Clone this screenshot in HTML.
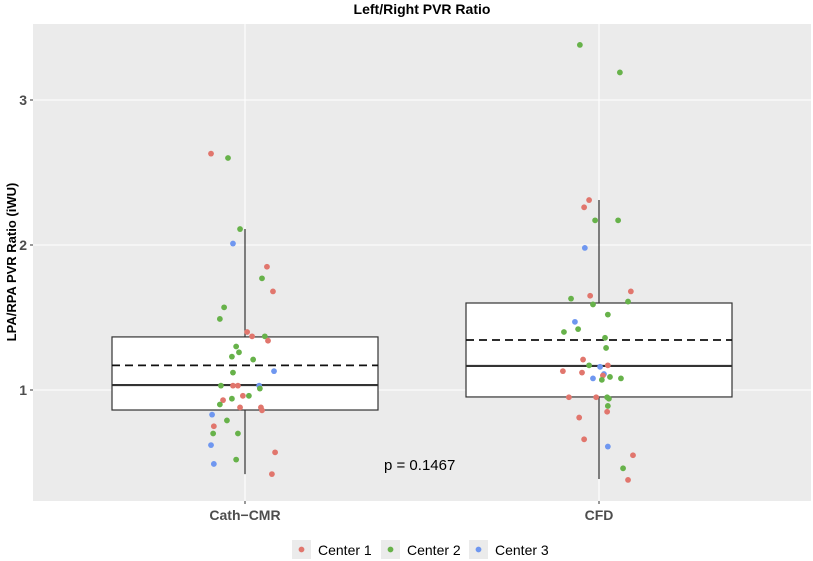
<!DOCTYPE html>
<html><head><meta charset="utf-8"><style>
body{margin:0;background:#fff;}
svg{display:block;font-family:"Liberation Sans",Arial,sans-serif;}
</style></head><body>
<svg id="chart" width="813" height="561" viewBox="0 0 813 561">
<rect x="0" y="0" width="813" height="561" fill="#fff"/>
<g id="plot"></g>
</svg>
<script>
const categories = ["Cath-CMR", "CFD"];
const yTicks = [1, 2, 3];
const boxQ1 = [0.862, 0.952];
const boxMedian = [1.034, 1.166];
const boxQ3 = [1.366, 1.60];
const boxMean = [1.17, 1.345];
const whiskerLow = [0.42, 0.386];
const whiskerHigh = [2.11, 2.31];
const centers = ["Center 1", "Center 2", "Center 3"];
const centerColors = ["#e1766d", "#67b24a", "#6f97f0"];
// Cath-CMR points
const cathVal = [2.63,2.60,2.11,2.01,1.85,1.77,1.68,1.57,1.49,1.40,1.37,1.37,1.34,1.30,1.23,1.26,1.21,1.12,1.13,1.03,1.03,1.03,1.03,1.01,0.96,0.96,0.93,0.94,0.90,0.88,0.88,0.86,0.83,0.75,0.79,0.70,0.70,0.62,0.57,0.52,0.49,0.42];
const cathJit = [-0.096,-0.048,-0.014,-0.034,0.062,0.048,0.079,-0.059,-0.071,0.006,0.020,0.056,0.065,-0.025,-0.037,-0.017,0.023,-0.034,0.082,-0.068,-0.034,-0.020,0.040,0.042,-0.006,0.011,-0.062,-0.037,-0.071,-0.014,0.045,0.048,-0.093,-0.088,-0.051,-0.090,-0.020,-0.096,0.085,-0.025,-0.088,0.076];
const cathCtr = [0,1,1,2,0,1,0,1,1,0,0,1,0,1,1,1,1,1,2,1,0,0,2,1,0,1,0,1,1,0,0,0,2,0,1,1,1,2,0,1,2,0];
// CFD points
const cfdVal = [3.38,3.19,2.31,2.26,2.17,2.17,1.98,1.68,1.65,1.63,1.61,1.59,1.52,1.47,1.42,1.40,1.36,1.29,1.21,1.17,1.16,1.17,1.13,1.12,1.11,1.10,1.09,1.08,1.07,1.08,0.95,0.95,0.95,0.94,0.89,0.85,0.81,0.66,0.61,0.55,0.46,0.38];
const cfdJit = [-0.054,0.059,-0.028,-0.042,-0.011,0.054,-0.040,0.090,-0.025,-0.079,0.082,-0.017,0.025,-0.068,-0.059,-0.099,0.017,0.020,-0.045,-0.028,0.003,0.025,-0.102,-0.048,0.014,0.011,0.031,-0.017,0.008,0.062,-0.085,-0.008,0.023,0.028,0.025,0.023,-0.056,-0.042,0.025,0.096,0.068,0.082];
const cfdCtr = [1,1,0,0,1,1,2,0,0,1,1,1,1,2,1,1,1,1,0,1,2,0,0,0,2,0,1,2,1,1,0,0,1,1,1,0,0,0,2,0,1,0];

const P = {l:33, r:811, t:24, b:501};
const yScale = v => 390 - 145*(v-1);
const xScale = i => 245 + 354*i;
const catStep = 354;
const NS = "http://www.w3.org/2000/svg";
const g = document.getElementById('plot');
function mk(tag, attrs, parent){const e=document.createElementNS(NS,tag);for(const k in attrs)e.setAttribute(k,attrs[k]);(parent||g).appendChild(e);return e;}

let e = mk('rect',{x:P.l,y:P.t,width:P.r-P.l,height:P.b-P.t,fill:'#ebebeb'});



yTicks.forEach(t=>{
  let y=yScale(t);
  let l=mk('line',{x1:P.l,x2:P.r,y1:y,y2:y,stroke:'#fff','stroke-width':1.1});
  
  
  let tk=mk('line',{x1:P.l-3,x2:P.l,y1:y,y2:y,stroke:'#333','stroke-width':1});
  
  
  let tx=mk('text',{x:P.l-6,y:y+5,'text-anchor':'end','font-size':14,'font-weight':'bold',fill:'#4d4d4d'});
  tx.textContent=t;
  
  
});
categories.forEach((c,i)=>{
  let x=xScale(i);
  let l=mk('line',{x1:x,x2:x,y1:P.t,y2:P.b,stroke:'#fff','stroke-width':1.1});
  
  
  let tk=mk('line',{x1:x,x2:x,y1:P.b,y2:P.b+3,stroke:'#333','stroke-width':1});
  
  
  let tx=mk('text',{x:x,y:P.b+19,'text-anchor':'middle','font-size':14,'font-weight':'bold',fill:'#4d4d4d'});
  tx.textContent=c.replace('-','\u2212');
  
  
});

categories.forEach((c,i)=>{
  let x=xScale(i), hw=133;
  let w=mk('line',{x1:x,x2:x,y1:yScale(whiskerHigh[i]),y2:yScale(whiskerLow[i]),stroke:'#333','stroke-width':1.2});
  
  
  let b=mk('rect',{x:x-hw,y:yScale(boxQ3[i]),width:2*hw,height:yScale(boxQ1[i])-yScale(boxQ3[i]),fill:'#fff',stroke:'#333','stroke-width':1.2});
  
  
  let m=mk('line',{x1:x-hw,x2:x+hw,y1:yScale(boxMedian[i]),y2:yScale(boxMedian[i]),stroke:'#333','stroke-width':2.2});
  
  
  let mn=mk('line',{x1:x-hw,x2:x+hw,y1:yScale(boxMean[i]),y2:yScale(boxMean[i]),stroke:'#111','stroke-width':1.8,'stroke-dasharray':'8,5'});
  
  
});

function drawPoints(ci, vals, jits, ctrs){
  vals.forEach((v,k)=>{
    let c=mk('circle',{cx:xScale(ci)+jits[k]*catStep,cy:yScale(v),r:2.9,fill:centerColors[ctrs[k]]});
    
    
  });
}
drawPoints(0, cathVal, cathJit, cathCtr);
drawPoints(1, cfdVal, cfdJit, cfdCtr);

let pv=mk('text',{x:384,y:470,'font-size':15,fill:'#000'});
pv.textContent='p = 0.1467';



let ti=mk('text',{x:422,y:14,'text-anchor':'middle','font-size':14,'font-weight':'bold',fill:'#000'});
ti.textContent='Left/Right PVR Ratio';



let yt=mk('text',{x:0,y:0,'text-anchor':'middle','font-size':13,'font-weight':'bold',fill:'#000',transform:'translate(16,262) rotate(-90)'});
yt.textContent='LPA/RPA PVR Ratio (iWU)';



const legKeyX=[292,381,469];
centers.forEach((c,i)=>{
  let lg=mk('g',{});
  
  
  let r=mk('rect',{x:legKeyX[i],y:540,width:19,height:19,fill:'#ebebeb'},lg);
  
  
  let d=mk('circle',{cx:legKeyX[i]+9.5,cy:549.5,r:2.9,fill:centerColors[i]},lg);
  
  
  let t=mk('text',{x:legKeyX[i]+26,y:555,'font-size':14,fill:'#000'},lg);
  t.textContent=c;
  
  
});
</script>
</body></html>
